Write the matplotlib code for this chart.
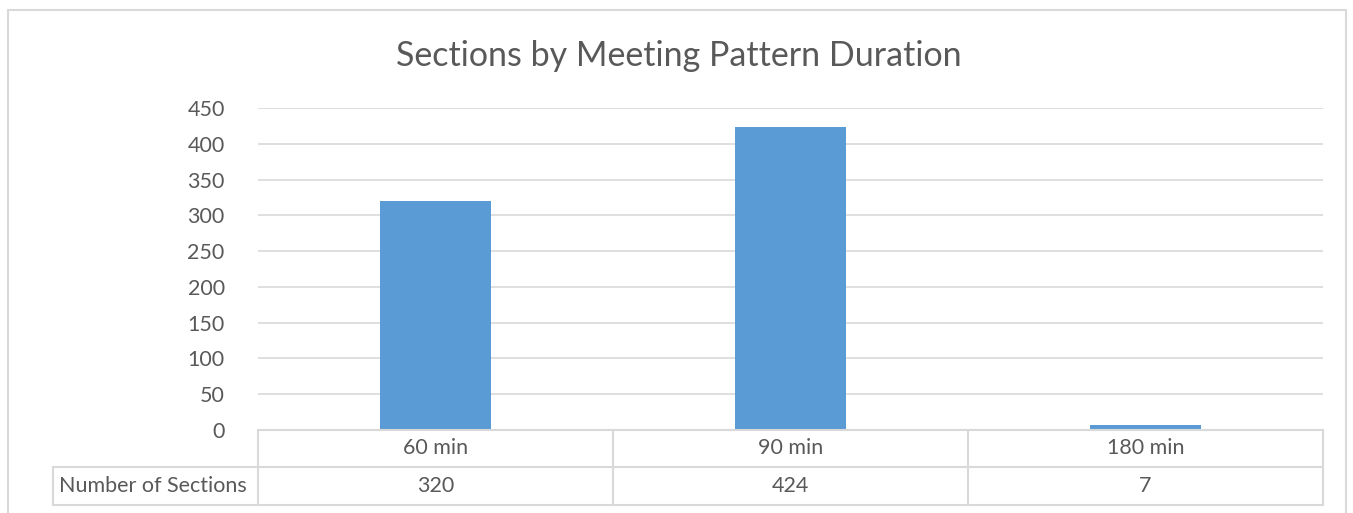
import matplotlib.pyplot as plt
from matplotlib.lines import Line2D
from matplotlib.patches import Rectangle

categories = ['60 min', '90 min', '180 min']
sections = [320, 424, 7]
series_name = 'Number of Sections'
title = 'Sections by Meeting Pattern Duration'

W, H = 1353, 513
TXT = '#595959'
GRID = '#d9d9d9'
BAR = '#5b9bd5'
FS = 15.5

plt.rcParams['font.family'] = ['Lato', 'DejaVu Sans']

fig = plt.figure(figsize=(W / 100, H / 100), dpi=100)

# plot area in pixels
left, right, top, bottom = 258, 1323, 108, 430
ax = fig.add_axes([left / W, 1 - bottom / H, (right - left) / W, (bottom - top) / H])

x = range(len(categories))
ax.bar(x, sections, width=0.313, color=BAR, zorder=3)
ax.set_xlim(-0.5, len(categories) - 0.5)
ax.set_ylim(0, 450)
ax.set_yticks(range(0, 451, 50))
ax.yaxis.grid(True, color=GRID, linewidth=1.2)
ax.set_axisbelow(True)
ax.set_xticks([])
for s in ax.spines.values():
    s.set_visible(False)
ax.tick_params(axis='y', length=0, pad=24, labelsize=FS, labelcolor=TXT)

fig.text(679 / W, 1 - 56 / H, title, ha='center', va='center',
         fontsize=24.5, color=TXT)

# outer chart border
fig.add_artist(Rectangle((8 / W, -0.1), (1346 - 8) / W, 1.1 - 10 / H,
                         transform=fig.transFigure, fill=False,
                         edgecolor=GRID, linewidth=1.5))

# data table
row1, row2, row3 = 430, 467, 505
label_left = 53
cat_w = (right - left) / len(categories)


def hline(x0, x1, y):
    fig.add_artist(Line2D([x0 / W, x1 / W], [1 - y / H, 1 - y / H],
                          color=GRID, linewidth=1.5, transform=fig.transFigure))


def vline(xp, y0, y1):
    fig.add_artist(Line2D([xp / W, xp / W], [1 - y0 / H, 1 - y1 / H],
                          color=GRID, linewidth=1.5, transform=fig.transFigure))


hline(left, right, row1)
hline(label_left, right, row2)
hline(label_left, right, row3)
vline(label_left, row2, row3)
for i in range(len(categories) + 1):
    vline(left + i * cat_w, row1, row3)

for i, (c, v) in enumerate(zip(categories, sections)):
    cx = (left + (i + 0.5) * cat_w) / W
    fig.text(cx, 1 - (row1 + row2) / 2 / H, c, ha='center', va='center',
             fontsize=FS, color=TXT)
    fig.text(cx, 1 - (row2 + row3) / 2 / H, str(v), ha='center', va='center',
             fontsize=FS, color=TXT)
fig.text((label_left + 6) / W, 1 - (row2 + row3) / 2 / H, series_name,
         ha='left', va='center', fontsize=FS, color=TXT)

fig.savefig('out.png', dpi=100)
